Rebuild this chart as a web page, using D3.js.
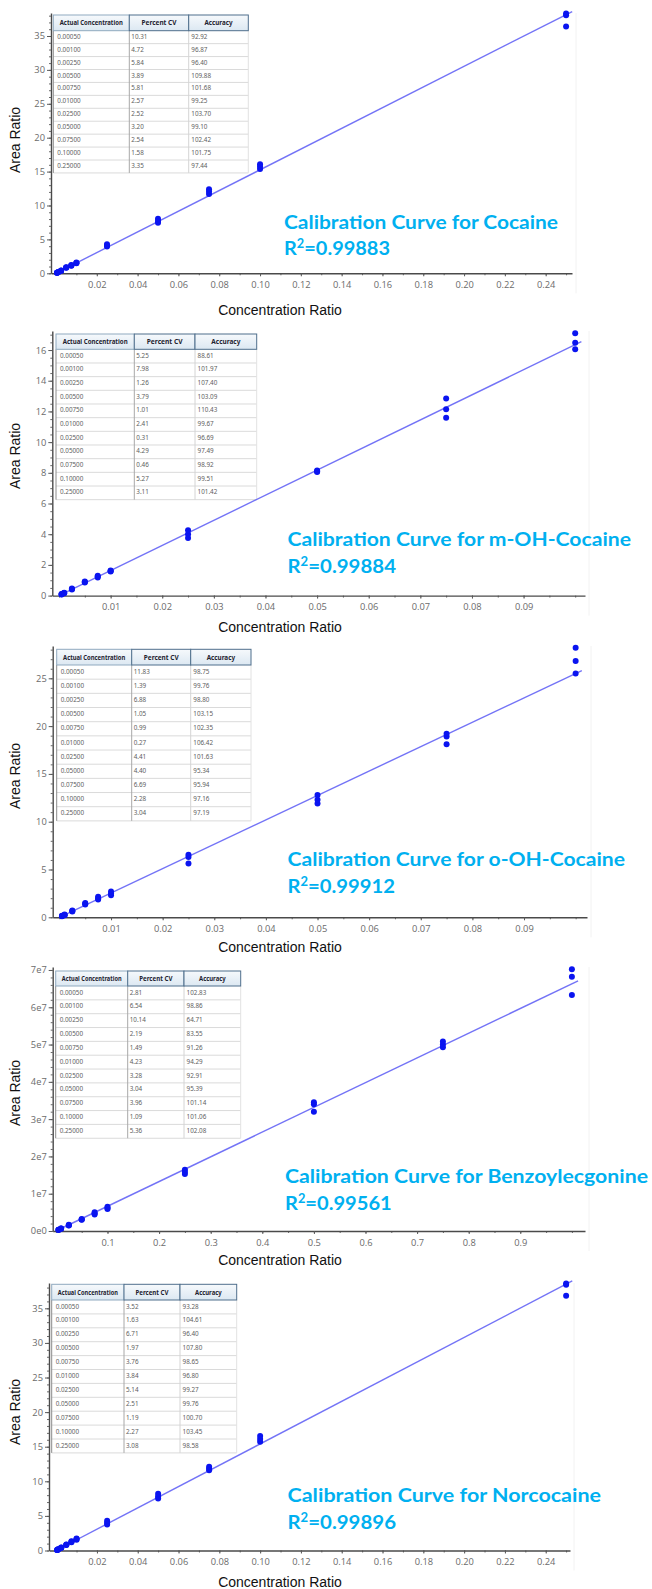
<!DOCTYPE html>
<html>
<head>
<meta charset="utf-8">
<script src="https://cdn.jsdelivr.net/npm/d3@7"></script>
<style>
  html, body { margin: 0; padding: 0; background: #fff; }
  svg { display: block; }
</style>
</head>
<body>
<svg id="chart" width="652" height="1589"></svg>
<script>
// ---------- shared table content ----------
const tableHeaders = ["Actual Concentration", "Percent CV", "Accuracy"];
const concLabels = ["0.00050", "0.00100", "0.00250", "0.00500", "0.00750", "0.01000",
                    "0.02500", "0.05000", "0.07500", "0.10000", "0.25000"];

// ---------- Cocaine ----------
const cocaineLevels = [0.0005, 0.001, 0.0025, 0.005, 0.0075, 0.01, 0.025, 0.05, 0.075, 0.1, 0.25];
const cocaineArea = [
  [0.07, 0.08, 0.09], [0.14, 0.15, 0.16], [0.36, 0.38, 0.40], [0.82, 0.84, 0.88],
  [1.12, 1.16, 1.21], [1.48, 1.53, 1.60], [3.95, 4.10, 4.30], [7.45, 7.70, 8.05],
  [11.70, 12.05, 12.40], [15.40, 15.75, 16.10], [36.40, 38.05, 38.30]
];
const cocaineFit = [152.6, 0];          // slope, intercept
const cocaineCV = ["10.31", "4.72", "5.84", "3.89", "5.81", "2.57", "2.52", "3.20", "2.54", "1.58", "3.35"];
const cocaineAccuracy = ["92.92", "96.87", "96.40", "109.88", "101.68", "99.25", "103.70", "99.10", "102.42", "101.75", "97.44"];
const cocaineR2 = "0.99883";

// ---------- m-OH-Cocaine ----------
const mohLevels = [0.0005, 0.001, 0.0025, 0.005, 0.0075, 0.01, 0.025, 0.05, 0.075, 0.1];
const mohArea = [
  [0.07, 0.08, 0.10], [0.15, 0.17, 0.19], [0.40, 0.43, 0.46], [0.85, 0.88, 0.92],
  [1.18, 1.24, 1.30], [1.57, 1.60, 1.64], [3.75, 4.00, 4.25], [8.05, 8.10, 8.15],
  [11.59, 12.14, 12.85], [16.05, 16.48, 17.09]
];
const mohFit = [163.5, 0];
const mohCV = ["5.25", "7.98", "1.26", "3.79", "1.01", "2.41", "0.31", "4.29", "0.46", "5.27", "3.11"];
const mohAccuracy = ["88.61", "101.97", "107.40", "103.09", "110.43", "99.67", "96.69", "97.49", "98.92", "99.51", "101.42"];
const mohR2 = "0.99884";

// ---------- o-OH-Cocaine ----------
const oohLevels = [0.0005, 0.001, 0.0025, 0.005, 0.0075, 0.01, 0.025, 0.05, 0.075, 0.1];
const oohArea = [
  [0.11, 0.13, 0.15], [0.22, 0.25, 0.28], [0.60, 0.65, 0.70], [1.35, 1.42, 1.50],
  [1.85, 2.00, 2.15], [2.30, 2.50, 2.70], [5.64, 6.30, 6.55], [11.90, 12.30, 12.80],
  [18.10, 18.90, 19.20], [25.50, 26.80, 28.20]
];
const oohFit = [255, 0];
const oohCV = ["11.83", "1.39", "6.88", "1.05", "0.99", "0.27", "4.41", "4.40", "6.69", "2.28", "3.04"];
const oohAccuracy = ["98.75", "99.76", "98.80", "103.15", "102.35", "106.42", "101.63", "95.34", "95.94", "97.16", "97.19"];
const oohR2 = "0.99912";

// ---------- Benzoylecgonine ----------
const beLevels = [0.005, 0.01, 0.025, 0.05, 0.075, 0.1, 0.25, 0.5, 0.75, 1.0];
const beArea = [
  [3.0e5, 3.2e5, 3.4e5], [6.2e5, 6.5e5, 6.8e5], [1.50e6, 1.55e6, 1.65e6], [3.0e6, 3.1e6, 3.2e6],
  [4.4e6, 4.7e6, 5.0e6], [5.9e6, 6.2e6, 6.5e6], [1.53e7, 1.58e7, 1.64e7], [3.20e7, 3.40e7, 3.45e7],
  [4.93e7, 5.00e7, 5.08e7], [6.33e7, 6.82e7, 7.02e7]
];
const beFit = [6.63e7, 0];
const beCV = ["2.81", "6.54", "10.14", "2.19", "1.49", "4.23", "3.28", "3.04", "3.96", "1.09", "5.36"];
const beAccuracy = ["102.83", "98.86", "64.71", "83.55", "91.26", "94.29", "92.91", "95.39", "101.14", "101.06", "102.08"];
const beR2 = "0.99561";

// ---------- Norcocaine ----------
const norLevels = [0.0005, 0.001, 0.0025, 0.005, 0.0075, 0.01, 0.025, 0.05, 0.075, 0.1, 0.25];
const norArea = [
  [0.07, 0.08, 0.09], [0.16, 0.17, 0.18], [0.38, 0.40, 0.42], [0.80, 0.83, 0.86],
  [1.20, 1.26, 1.32], [1.55, 1.65, 1.75], [3.75, 4.00, 4.30], [7.50, 7.80, 8.20],
  [11.60, 11.85, 12.10], [15.70, 16.10, 16.55], [36.80, 38.40, 38.60]
];
const norFit = [154, 0];
const norCV = ["3.52", "1.63", "6.71", "1.97", "3.76", "3.84", "5.14", "2.51", "1.19", "2.27", "3.08"];
const norAccuracy = ["93.28", "104.61", "96.40", "107.80", "98.65", "96.80", "99.27", "99.76", "100.70", "103.45", "98.58"];
const norR2 = "0.99896";

// ---------- axis ticks ----------
const quarterXTicks = [0.02, 0.04, 0.06, 0.08, 0.10, 0.12, 0.14, 0.16, 0.18, 0.20, 0.22, 0.24];
const tenthXTicks = [0.01, 0.02, 0.03, 0.04, 0.05, 0.06, 0.07, 0.08, 0.09];
const unitXTicks = [0.1, 0.2, 0.3, 0.4, 0.5, 0.6, 0.7, 0.8, 0.9];
const ratio35Ticks = [0, 5, 10, 15, 20, 25, 30, 35];
const ratio16Ticks = [0, 2, 4, 6, 8, 10, 12, 14, 16];
const ratio25Ticks = [0, 5, 10, 15, 20, 25];
const ratio7e7Ticks = [0, 1e7, 2e7, 3e7, 4e7, 5e7, 6e7, 7e7];

// ---------- panel layout ----------
const panels = [
  { name: "Cocaine", levels: cocaineLevels, area: cocaineArea, fit: cocaineFit, cv: cocaineCV, acc: cocaineAccuracy, r2: cocaineR2,
    xTicks: quarterXTicks, xMinorStep: 0.01, xFmt: d3.format(".2f"),
    yTicks: ratio35Ticks, yMinorStep: 1, yFmt: d3.format("d"),
    axisX: 51, plotRight: 572, axisY: 273.3, plotTop: 13, xDomain: [-0.00245, 0.2529], yDomain: [0, 38.39],
    table: { cols: [53.3, 129.3, 188.7, 248.3], top: 15, headerH: 15.7, rowH: 12.93 },
    title: { x: 284, y: 229, w: 274, r2y: 255, r2w: 106 },
    yTitleY: 140, xTitleY: 315 },
  { name: "m-OH-Cocaine", levels: mohLevels, area: mohArea, fit: mohFit, cv: mohCV, acc: mohAccuracy, r2: mohR2,
    xTicks: tenthXTicks, xMinorStep: 0.005, xFmt: d3.format(".2f"),
    yTicks: ratio16Ticks, yMinorStep: 0.5, yFmt: d3.format("d"),
    axisX: 52.3, plotRight: 585, axisY: 595.6, plotTop: 331, xDomain: [-0.0013, 0.1019], yDomain: [0, 17.24],
    table: { cols: [56, 134.3, 195, 256.7], top: 334, headerH: 15.3, rowH: 13.67 },
    title: { x: 287.5, y: 545.7, w: 343.5, r2y: 573.3, r2w: 108.5 },
    yTitleY: 456, xTitleY: 631.7 },
  { name: "o-OH-Cocaine", levels: oohLevels, area: oohArea, fit: oohFit, cv: oohCV, acc: oohAccuracy, r2: oohR2,
    xTicks: tenthXTicks, xMinorStep: 0.005, xFmt: d3.format(".2f"),
    yTicks: ratio25Ticks, yMinorStep: 1, yFmt: d3.format("d"),
    axisX: 52.7, plotRight: 587, axisY: 917.3, plotTop: 646, xDomain: [-0.0013, 0.1022], yDomain: [0, 28.38],
    table: { cols: [56.7, 131.7, 190.7, 251], top: 649.3, headerH: 15.7, rowH: 14.17 },
    title: { x: 287.5, y: 865.7, w: 337.5, r2y: 892.7, r2w: 107.5 },
    yTitleY: 776, xTitleY: 951.7 },
  { name: "Benzoylecgonine", levels: beLevels, area: beArea, fit: beFit, cv: beCV, acc: beAccuracy, r2: beR2,
    xTicks: unitXTicks, xMinorStep: 0.05, xFmt: d3.format(".1f"),
    yTicks: ratio7e7Ticks, yMinorStep: 2e6, yFmt: v => (v / 1e7) + (v === 0 ? "e0" : "e7"),
    axisX: 52.7, plotRight: 585, axisY: 1231, plotTop: 967, xDomain: [-0.0062, 1.0254], yDomain: [0, 7.08e7],
    table: { cols: [55.7, 127.7, 184, 240.7], top: 971, headerH: 15, rowH: 13.84 },
    title: { x: 285, y: 1183.3, w: 363, r2y: 1210, r2w: 106.7 },
    yTitleY: 1093, xTitleY: 1265 },
  { name: "Norcocaine", levels: norLevels, area: norArea, fit: norFit, cv: norCV, acc: norAccuracy, r2: norR2,
    xTicks: quarterXTicks, xMinorStep: 0.01, xFmt: d3.format(".2f"),
    yTicks: ratio35Ticks, yMinorStep: 1, yFmt: d3.format("d"),
    axisX: 49, plotRight: 570, axisY: 1550.5, plotTop: 1283, xDomain: [-0.0035, 0.2519], yDomain: [0, 38.66],
    table: { cols: [51.7, 124, 180, 236.7], top: 1284.3, headerH: 15.7, rowH: 13.9 },
    title: { x: 287.5, y: 1501.7, w: 313.5, r2y: 1529, r2w: 108.5 },
    yTitleY: 1412, xTitleY: 1586.7 }
];

const svg = d3.select("#chart");

// header gradient for the summary tables
const defs = svg.append("defs");
const grad = defs.append("linearGradient").attr("id", "hdrGrad").attr("x1", 0).attr("y1", 0).attr("x2", 0).attr("y2", 1);
grad.append("stop").attr("offset", "0%").attr("stop-color", "#f6f9fc");
grad.append("stop").attr("offset", "100%").attr("stop-color", "#dce8f2");

const tickFont = "'Open Sans', 'DejaVu Sans', sans-serif";
const tableFont = "'Noto Sans', 'Open Sans', sans-serif";
const labelFont = "'Liberation Sans', Arial, sans-serif";
const titleFont = "Lato, 'Open Sans', sans-serif";

function minorValues(domain, step) {
  const out = [];
  const start = Math.ceil(domain[0] / step - 1e-9);
  for (let i = start; i * step <= domain[1] + 1e-12; i++) out.push(+(i * step).toFixed(10));
  return out.filter(v => v >= domain[0]);
}

function drawTable(g, t, cv, acc) {
  const c = t.cols;
  const n = concLabels.length;
  const bodyTop = t.top + t.headerH;
  const bottom = bodyTop + n * t.rowH;

  g.append("rect").attr("x", c[0]).attr("y", t.top).attr("width", c[3] - c[0]).attr("height", bottom - t.top)
    .attr("fill", "#ffffff");

  // row separators
  g.selectAll("line.row").data(d3.range(1, n + 1)).join("line")
    .attr("x1", c[0]).attr("x2", c[3])
    .attr("y1", i => bodyTop + i * t.rowH).attr("y2", i => bodyTop + i * t.rowH)
    .attr("stroke", "#d6d6d6").attr("stroke-width", 0.9);

  // column separators
  const colStroke = ["#8c8c8c", "#a8a8a8", "#d4d4d4", "#e2e2e2"];
  g.selectAll("line.col").data(c).join("line")
    .attr("x1", d => d).attr("x2", d => d)
    .attr("y1", bodyTop).attr("y2", bottom)
    .attr("stroke", (d, i) => colStroke[i]).attr("stroke-width", 1);

  // header cells
  g.selectAll("rect.hdr").data(tableHeaders).join("rect")
    .attr("x", (d, i) => c[i]).attr("y", t.top)
    .attr("width", (d, i) => c[i + 1] - c[i]).attr("height", t.headerH)
    .attr("fill", "url(#hdrGrad)")
    .attr("stroke", (d, i) => i === 0 ? "#8fa9bf" : "#4f6f8c").attr("stroke-width", 1);

  const hdrFrac = [0.83, 0.59, 0.47];
  g.selectAll("text.hdr").data(tableHeaders).join("text")
    .attr("x", (d, i) => (c[i] + c[i + 1]) / 2)
    .attr("y", t.top + t.headerH / 2 + 2.5)
    .attr("text-anchor", "middle")
    .attr("font-family", tableFont).attr("font-weight", 700).attr("font-size", 7)
    .attr("textLength", (d, i) => (c[i + 1] - c[i]) * hdrFrac[i])
    .attr("lengthAdjust", "spacingAndGlyphs")
    .attr("fill", "#1e2330")
    .text(d => d);

  const cols = [concLabels, cv, acc];
  const pad = [4, 2, 2.6];
  cols.forEach((vals, ci) => {
    g.selectAll("text.c" + ci).data(vals).join("text")
      .attr("x", c[ci] + pad[ci])
      .attr("y", (d, i) => bodyTop + i * t.rowH + t.rowH / 2 + 1.6)
      .attr("font-family", tableFont).attr("font-size", 6.3)
      .attr("fill", "#5e5e5e")
      .text(d => d);
  });
}

panels.forEach(p => {
  const g = svg.append("g").attr("class", "panel");
  const x = d3.scaleLinear().domain(p.xDomain).range([p.axisX, p.plotRight]);
  const y = d3.scaleLinear().domain(p.yDomain).range([p.axisY, p.plotTop]);

  // faint right edge of the plotting area
  g.append("line")
    .attr("x1", p.plotRight + 4).attr("x2", p.plotRight + 4)
    .attr("y1", p.plotTop).attr("y2", p.axisY + 20)
    .attr("stroke", "#f2f2f2").attr("stroke-width", 1);

  // minor ticks
  const yMinor = g.append("g").attr("transform", `translate(${p.axisX},0)`)
    .call(d3.axisLeft(y).tickValues(minorValues(p.yDomain, p.yMinorStep)).tickSize(2).tickFormat(""));
  yMinor.select(".domain").remove();
  yMinor.selectAll("line").attr("stroke", "#6a6a6a");

  const xMinor = g.append("g").attr("transform", `translate(0,${p.axisY})`)
    .call(d3.axisBottom(x).tickValues(minorValues([0, p.xDomain[1]], p.xMinorStep)).tickSize(2).tickFormat(""));
  xMinor.select(".domain").remove();
  xMinor.selectAll("line").attr("stroke", "#6a6a6a");

  // major axes
  const yAxis = g.append("g").attr("transform", `translate(${p.axisX},0)`)
    .call(d3.axisLeft(y).tickValues(p.yTicks).tickSize(4).tickSizeOuter(0).tickPadding(2).tickFormat(p.yFmt));
  const xAxis = g.append("g").attr("transform", `translate(0,${p.axisY})`)
    .call(d3.axisBottom(x).tickValues(p.xTicks).tickSize(3).tickSizeOuter(0).tickPadding(5).tickFormat(p.xFmt));
  [yAxis, xAxis].forEach(a => {
    a.select(".domain").attr("stroke", "#4a4a4a").attr("stroke-width", 1.4);
    a.selectAll(".tick line").attr("stroke", "#5a5a5a");
    a.selectAll(".tick text").attr("font-family", tickFont).attr("font-size", 9.3).attr("fill", "#6b6b6b");
  });

  // summary table
  drawTable(g.append("g"), p.table, p.cv, p.acc);

  // regression line
  const xEnd = d3.max(p.levels) * 1.012;
  g.append("line")
    .attr("x1", x(0)).attr("y1", y(p.fit[1]))
    .attr("x2", x(xEnd)).attr("y2", y(p.fit[0] * xEnd + p.fit[1]))
    .attr("stroke", "#5a5af5").attr("stroke-opacity", 0.85).attr("stroke-width", 1.4);

  // replicate points
  const pts = [];
  p.levels.forEach((lv, i) => p.area[i].forEach(v => pts.push([lv, v])));
  g.selectAll("circle.pt").data(pts).join("circle")
    .attr("cx", d => x(d[0])).attr("cy", d => y(d[1])).attr("r", 3)
    .attr("fill", "#0a14f0");

  // axis titles
  g.append("text")
    .attr("transform", `translate(20,${p.yTitleY}) rotate(-90)`)
    .attr("text-anchor", "middle")
    .attr("font-family", labelFont).attr("font-size", 14).attr("fill", "#111")
    .text("Area Ratio");
  g.append("text")
    .attr("x", 280).attr("y", p.xTitleY)
    .attr("text-anchor", "middle")
    .attr("font-family", labelFont).attr("font-size", 14).attr("fill", "#111")
    .text("Concentration Ratio");

  // curve title and R²
  g.append("text")
    .attr("x", p.title.x).attr("y", p.title.y)
    .attr("font-family", titleFont).attr("font-weight", 700).attr("font-size", 19.5)
    .attr("fill", "#00b0f0")
    .attr("textLength", p.title.w).attr("lengthAdjust", "spacingAndGlyphs")
    .text("Calibration Curve for " + p.name);
  const r2 = g.append("text")
    .attr("x", p.title.x).attr("y", p.title.r2y)
    .attr("font-family", titleFont).attr("font-weight", 700).attr("font-size", 19.5)
    .attr("fill", "#00b0f0")
    .attr("textLength", p.title.r2w).attr("lengthAdjust", "spacingAndGlyphs");
  r2.append("tspan").text("R");
  r2.append("tspan").attr("font-size", 12.5).attr("dy", -7).text("2");
  r2.append("tspan").attr("dy", 7).text("=" + p.r2);
});
</script>
</body>
</html>
